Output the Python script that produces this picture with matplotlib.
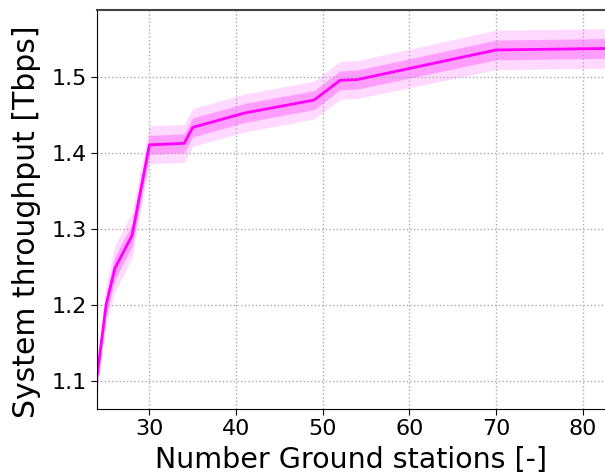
import numpy as np
import matplotlib
matplotlib.use("Agg")
import matplotlib.pyplot as plt

# number of ground stations vs mean throughput (Tbps) and its spread
n_gs = [24, 25, 26, 28, 30, 34, 35, 41, 49, 52, 54, 70, 83]
thr = [1.110, 1.200, 1.248, 1.292, 1.411, 1.413, 1.434, 1.453, 1.470, 1.496, 1.497, 1.536, 1.538]
std = [0.012, 0.013, 0.015, 0.015, 0.0125, 0.0125, 0.0125, 0.0125, 0.0125, 0.0125, 0.0125, 0.013, 0.013]

x = np.array(n_gs)
y = np.array(thr)
s = np.array(std)

fig = plt.figure(figsize=(6.05, 4.76), dpi=100)
ax = fig.add_axes([0.161, 0.1414, 0.839, 0.8376])

ax.fill_between(x, y - 2*s, y + 2*s, color='magenta', alpha=0.15, lw=0)
ax.fill_between(x, y - s, y + s, color='magenta', alpha=0.27, lw=0)
ax.plot(x, y, color='magenta', lw=2)

ax.set_xlim(24, 82.57)
ax.set_ylim(1.0636, 1.5886)
ax.set_xticks([30, 40, 50, 60, 70, 80])
ax.set_yticks([1.1, 1.2, 1.3, 1.4, 1.5])
ax.grid(True, linestyle=':', color='#aaaaaa', lw=1)
ax.tick_params(labelsize=16, direction='out', length=4)
ax.spines['right'].set_visible(False)
ax.spines['top'].set_color('#444444')
ax.spines['top'].set_linewidth(1.5)
ax.set_xlabel('Number Ground stations [-]', fontsize=20.5, labelpad=5)
ax.set_ylabel('System throughput [Tbps]', fontsize=21.5)
ax.yaxis.set_label_coords(-0.112, 0.47)

fig.savefig('out.png', dpi=100)
